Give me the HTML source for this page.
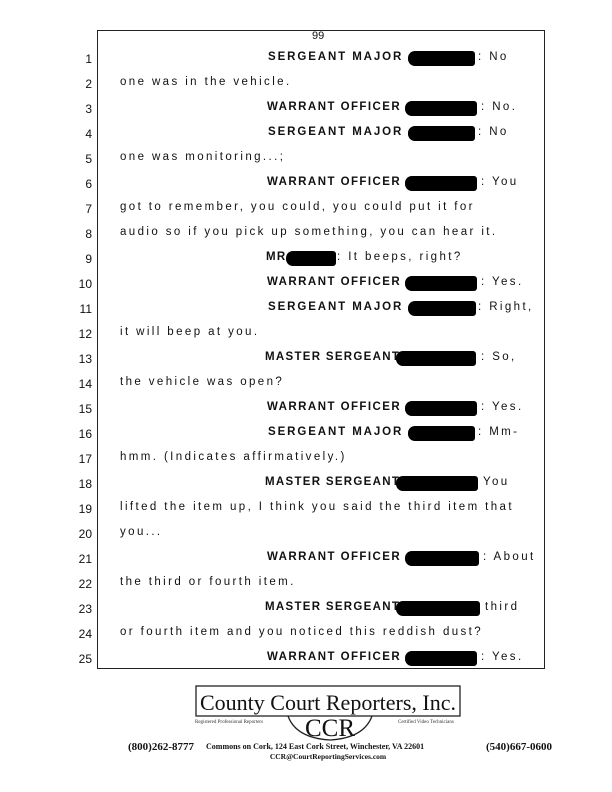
<!DOCTYPE html>
<html><head><meta charset="utf-8"><style>
body{margin:0;background:#fff;}
#p{position:relative;width:612px;height:792px;overflow:hidden;font-family:"Liberation Sans",sans-serif;color:#111;}
.box{position:absolute;left:97px;top:30px;width:446px;height:637px;border:1.3px solid #222;}
.n{position:absolute;left:60px;width:32px;text-align:right;font-size:12px;}
.t{position:absolute;font-size:11.5px;letter-spacing:2.4px;white-space:nowrap;}
.b{font-weight:bold;letter-spacing:1.9px;}
.w{letter-spacing:1.45px;}
.m{letter-spacing:1.3px;}
.r{position:absolute;background:#000;height:15px;border-radius:7px 3px 3px 7px;}
</style></head><body><div id="p">
<div class="box"></div>
<div class="t" style="left:312px;top:30px;font-size:11px;letter-spacing:0">99</div>

<div class="n" style="top:52px">1</div><div class="t b" style="left:268px;top:51px">SERGEANT MAJOR</div><div class="r" style="left:408px;top:51px;width:67px"></div><div class="t" style="left:478px;top:51px">: No</div>
<div class="n" style="top:77px">2</div><div class="t" style="left:120px;top:76px">one was in the vehicle.</div>
<div class="n" style="top:102px">3</div><div class="t b w" style="left:267px;top:101px">WARRANT OFFICER</div><div class="r" style="left:405px;top:101px;width:72px"></div><div class="t" style="left:481px;top:101px">: No.</div>
<div class="n" style="top:127px">4</div><div class="t b" style="left:268px;top:126px">SERGEANT MAJOR</div><div class="r" style="left:408px;top:126px;width:67px"></div><div class="t" style="left:478px;top:126px">: No</div>
<div class="n" style="top:152px">5</div><div class="t" style="left:120px;top:151px">one was monitoring...;</div>
<div class="n" style="top:177px">6</div><div class="t b w" style="left:267px;top:176px">WARRANT OFFICER</div><div class="r" style="left:405px;top:176px;width:72px"></div><div class="t" style="left:481px;top:176px">: You</div>
<div class="n" style="top:202px">7</div><div class="t" style="left:120px;top:201px">got to remember, you could, you could put it for</div>
<div class="n" style="top:227px">8</div><div class="t" style="left:120px;top:226px">audio so if you pick up something, you can hear it.</div>
<div class="n" style="top:252px">9</div><div class="t b m" style="left:266px;top:251px">MR.</div><div class="r" style="left:286px;top:251px;width:50px"></div><div class="t" style="left:337px;top:251px">: It beeps, right?</div>
<div class="n" style="top:277px">10</div><div class="t b w" style="left:267px;top:276px">WARRANT OFFICER</div><div class="r" style="left:405px;top:276px;width:72px"></div><div class="t" style="left:481px;top:276px">: Yes.</div>
<div class="n" style="top:302px">11</div><div class="t b" style="left:268px;top:301px">SERGEANT MAJOR</div><div class="r" style="left:408px;top:301px;width:68px"></div><div class="t" style="left:478px;top:301px">: Right,</div>
<div class="n" style="top:327px">12</div><div class="t" style="left:120px;top:326px">it will beep at you.</div>
<div class="n" style="top:352px">13</div><div class="t b m" style="left:265px;top:351px">MASTER SERGEANT</div><div class="r" style="left:396px;top:351px;width:80px"></div><div class="t" style="left:481px;top:351px">: So,</div>
<div class="n" style="top:377px">14</div><div class="t" style="left:120px;top:376px">the vehicle was open?</div>
<div class="n" style="top:402px">15</div><div class="t b w" style="left:267px;top:401px">WARRANT OFFICER</div><div class="r" style="left:405px;top:401px;width:72px"></div><div class="t" style="left:481px;top:401px">: Yes.</div>
<div class="n" style="top:427px">16</div><div class="t b" style="left:268px;top:426px">SERGEANT MAJOR</div><div class="r" style="left:408px;top:426px;width:67px"></div><div class="t" style="left:478px;top:426px">: Mm-</div>
<div class="n" style="top:452px">17</div><div class="t" style="left:120px;top:451px">hmm. (Indicates affirmatively.)</div>
<div class="n" style="top:477px">18</div><div class="t b m" style="left:265px;top:476px">MASTER SERGEANT</div><div class="r" style="left:396px;top:476px;width:82px"></div><div class="t" style="left:483px;top:476px">You</div>
<div class="n" style="top:502px">19</div><div class="t" style="left:120px;top:501px">lifted the item up, I think you said the third item that</div>
<div class="n" style="top:527px">20</div><div class="t" style="left:120px;top:526px">you...</div>
<div class="n" style="top:552px">21</div><div class="t b w" style="left:267px;top:551px">WARRANT OFFICER</div><div class="r" style="left:405px;top:551px;width:74px"></div><div class="t" style="left:483px;top:551px">: About</div>
<div class="n" style="top:577px">22</div><div class="t" style="left:120px;top:576px">the third or fourth item.</div>
<div class="n" style="top:602px">23</div><div class="t b m" style="left:265px;top:601px">MASTER SERGEANT</div><div class="r" style="left:396px;top:601px;width:84px"></div><div class="t" style="left:485px;top:601px">third</div>
<div class="n" style="top:627px">24</div><div class="t" style="left:120px;top:626px">or fourth item and you noticed this reddish dust?</div>
<div class="n" style="top:652px">25</div><div class="t b w" style="left:267px;top:651px">WARRANT OFFICER</div><div class="r" style="left:405px;top:651px;width:72px"></div><div class="t" style="left:481px;top:651px">: Yes.</div>

<svg style="position:absolute;left:0;top:0" width="612" height="792">
<rect x="196" y="686" width="264" height="30" fill="none" stroke="#222" stroke-width="1.3"/>
<path d="M288 716 Q296 738 330 740 Q364 738 372 716" fill="none" stroke="#222" stroke-width="1.3"/>
<text x="328" y="710" text-anchor="middle" font-family="Liberation Serif" font-size="22" fill="#111">County Court Reporters, Inc.</text>
<text x="330" y="736" text-anchor="middle" font-family="Liberation Serif" font-size="25" fill="#111">CCR</text>
<text x="195" y="723" font-family="Liberation Serif" font-size="5" fill="#333">Registered Professional Reporters</text>
<text x="398" y="723" font-family="Liberation Serif" font-size="5" fill="#333">Certified Video Technicians</text>
<text x="128" y="750" font-family="Liberation Serif" font-size="11" font-weight="bold" fill="#111">(800)262-8777</text>
<text x="206" y="749" font-family="Liberation Serif" font-size="8" font-weight="bold" fill="#111">Commons on Cork, 124 East Cork Street, Winchester, VA  22601</text>
<text x="486" y="750" font-family="Liberation Serif" font-size="11" font-weight="bold" fill="#111">(540)667-0600</text>
<text x="328" y="759" text-anchor="middle" font-family="Liberation Serif" font-size="7.5" font-weight="bold" fill="#111">CCR@CourtReportingServices.com</text>
</svg>
</div></body></html>
